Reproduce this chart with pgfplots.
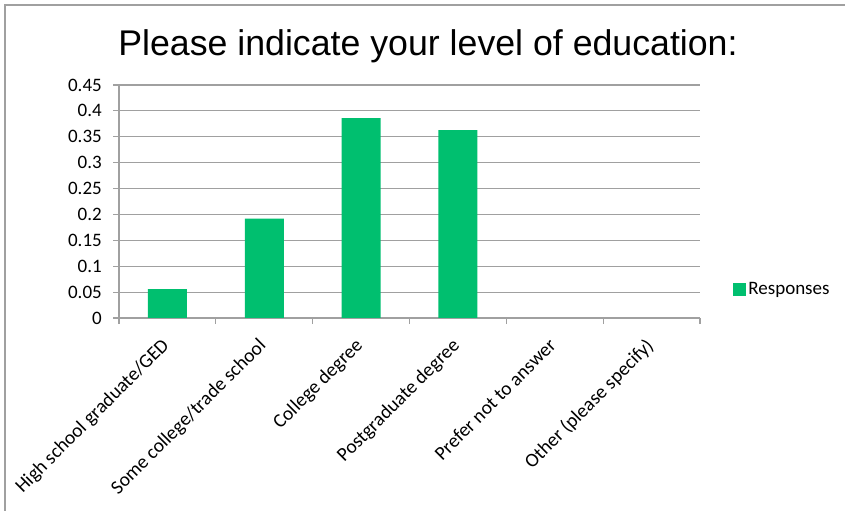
\documentclass[border=0pt]{standalone}
\usepackage{fontspec}
\setmainfont{Carlito}
\newfontfamily\arialfont{Liberation Sans}
\usepackage{pgfplots}
\pgfplotsset{compat=1.18}
\definecolor{barg}{HTML}{00BF6F}
\definecolor{gridg}{HTML}{A0A0A0}
\begin{document}
\begin{tikzpicture}
\useasboundingbox (0bp,0bp) rectangle (845bp,511bp);
\draw[color=gridg, line width=1.5bp] (5bp,0bp) -- (5bp,506bp) -- (845bp,506bp);
\node[anchor=base, inner sep=0pt, font=\arialfont\fontsize{35.7bp}{40bp}\selectfont] at (428bp,455bp) {Please indicate your level of education:};
\begin{axis}[
  at={(119bp,193bp)}, anchor=south west,
  scale only axis, width=581bp, height=233bp,
  xmin=-0.5, xmax=5.5, ymin=0, ymax=0.45,
  axis lines*=left,
  axis line style={draw=gridg, line width=1.2bp},
  tick align=outside,
  major tick length=6bp,
  tick style={draw=gridg, line width=1.2bp},
  ytick={0,0.05,0.1,0.15,0.2,0.25,0.3,0.35,0.4,0.45},
  ymajorgrids,
  grid style={draw=gridg, line width=1.2bp},
  scaled y ticks=false,
  yticklabel style={/pgf/number format/fixed, /pgf/number format/precision=2, /pgf/number format/assume math mode=true, font=\fontsize{19bp}{22bp}\selectfont, inner sep=2bp, xshift=-9bp},
  xtick={-0.5,0.5,1.5,2.5,3.5,4.5,5.5},
  xticklabels={},
  extra x ticks={0,1,2,3,4,5},
  extra x tick labels={High school graduate/GED,Some college/trade school,College degree,Postgraduate degree,Prefer not to answer,Other (please specify)},
  extra x tick style={grid=none, tick style={draw=none}, xticklabel style={rotate=45, anchor=north east, font=\fontsize{19.5bp}{22bp}\selectfont, inner sep=2bp, xshift=-12bp, yshift=-2bp}},
  legend style={at={(1.052,0.124)}, anchor=west, draw=none, fill=none, font=\fontsize{19bp}{22bp}\selectfont, legend cell align=left},
  legend image code/.code={\fill[#1] (0bp,-6.5bp) rectangle (13bp,6.5bp);},
]
\addplot[ybar, bar width=39bp, fill=barg, draw=none] coordinates {(0,0.056) (1,0.192) (2,0.386) (3,0.363) (4,0) (5,0)};
\addlegendentry{Responses}
\end{axis}
\end{tikzpicture}
\end{document}
